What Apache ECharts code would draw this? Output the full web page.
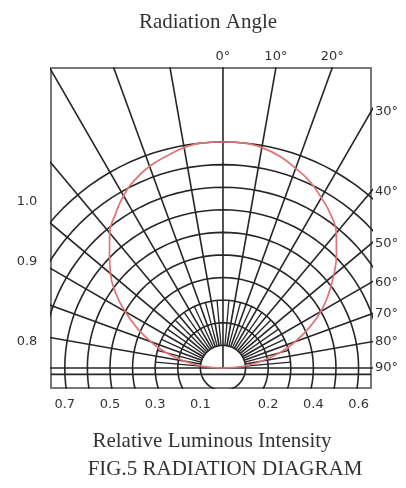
<!DOCTYPE html>
<html>
<head>
<meta charset="utf-8">
<script src="https://cdn.jsdelivr.net/npm/echarts@6/dist/echarts.min.js"></script>
<style>
  html, body { margin: 0; padding: 0; background: #fff; }
  #chart { width: 406px; height: 488px; }
</style>
</head>
<body>
<div id="chart"></div>
<script>
// Concentric intensity rings (relative units)
const ringValues = [0.1, 0.2, 0.3, 0.4, 0.5, 0.6, 0.7, 0.8, 0.9, 1.0];
// Main radial angle lines, degrees from the optical axis
const spokeAngles = [-90, -80, -70, -60, -50, -40, -30, -20, -10, 0, 10, 20, 30, 40, 50, 60, 70, 80, 90];
// Intermediate radial lines drawn only near the centre
const fineSpokeAngles = [-85, -75, -65, -55, -45, -35, -25, -15, -5, 5, 15, 25, 35, 45, 55, 65, 75, 85];
// Radiation pattern: angle (deg) and relative luminous intensity
const curveAngles = [-90, -85, -80, -75, -70, -65, -60, -55, -50, -45, -40, -35, -30, -25, -20, -15, -10, -5, 0,
                     5, 10, 15, 20, 25, 30, 35, 40, 45, 50, 55, 60, 65, 70, 75, 80, 85, 90];
const curveIntensity = [0.00, 0.09, 0.17, 0.26, 0.34, 0.42, 0.50, 0.58, 0.65, 0.71, 0.78, 0.83, 0.88, 0.92, 0.95, 0.97, 0.99, 1.00, 1.00,
                        1.00, 0.99, 0.97, 0.94, 0.91, 0.87, 0.83, 0.78, 0.71, 0.64, 0.57, 0.50, 0.42, 0.34, 0.26, 0.17, 0.09, 0.00];
// Tick labels
const bottomTicks = [-0.7, -0.5, -0.3, -0.1, 0.2, 0.4, 0.6];
const topTickAngles = [0, 10, 20];
const rightTickAngles = [30, 40, 50, 60, 70, 80, 90];
const leftLabels = ['1.0', '0.9', '0.8'];

// Plot window in intensity units (x across, y up from the source)
const X_MIN = -0.761, X_MAX = 0.655;
const Y_MIN = -0.0885, Y_MAX = 1.3275;

const rad = d => d * Math.PI / 180;
const polar = (r, deg) => [r * Math.sin(rad(deg)), r * Math.cos(rad(deg))];

const GRID = '#262626';
const series = [];
const gridLine = (data, w) => ({
  type: 'line', data, showSymbol: false, silent: true, clip: true,
  lineStyle: { color: GRID, width: w || 1.6 }, z: 2
});

// rings (full circles, clipped by the frame)
ringValues.forEach(r => {
  const pts = [];
  for (let a = 0; a <= 360; a += 3) pts.push(polar(r, a));
  series.push(gridLine(pts));
});
// main spokes
spokeAngles.forEach(a => {
  const r0 = (a === 0 || Math.abs(a) === 90) ? 0 : ringValues[0];
  series.push(gridLine([polar(r0, a), polar(2, a)]));
});
// fine spokes between the first and third rings
fineSpokeAngles.forEach(a => {
  series.push(gridLine([polar(ringValues[0], a), polar(ringValues[2], a)], 1.3));
});
// lower base line
series.push(gridLine([[X_MIN, -0.028], [X_MAX, -0.028]]));

// radiation pattern
series.push({
  type: 'line', smooth: true, showSymbol: false, silent: true, z: 5,
  data: curveAngles.map((a, i) => polar(curveIntensity[i], a)),
  lineStyle: { color: '#e07474', width: 1.7 }
});

const tickFont = { fontFamily: 'DejaVu Sans', fontSize: 13, color: '#333' };
const serif = { fontFamily: 'Liberation Serif', fontSize: 21, color: '#333', fontWeight: 'normal' };

const chart = echarts.init(document.getElementById('chart'), null, { renderer: 'canvas' });
chart.setOption({
  animation: false,
  backgroundColor: '#fff',
  grid: { left: 51, right: 35, top: 68, bottom: 100, show: true, borderColor: '#777', borderWidth: 2, backgroundColor: 'transparent' },
  title: [
    { text: 'Radiation Angle', left: 203, top: 7, textAlign: 'center', textStyle: serif },
    { text: 'Relative Luminous Intensity', left: 207, top: 426, textAlign: 'center', textStyle: serif },
    { text: 'FIG.5 RADIATION DIAGRAM', left: 220, top: 454, textAlign: 'center', textStyle: serif }
  ],
  xAxis: [
    {
      type: 'value', position: 'bottom', min: X_MIN, max: X_MAX,
      axisLine: { show: false }, axisTick: { show: false }, splitLine: { show: false },
      axisLabel: { ...tickFont, margin: 10, customValues: bottomTicks, formatter: v => Math.abs(v).toFixed(1) }
    },
    {
      type: 'value', position: 'top', min: X_MIN, max: X_MAX,
      axisLine: { show: false }, axisTick: { show: false }, splitLine: { show: false },
      axisLabel: {
        ...tickFont, margin: 5,
        customValues: topTickAngles.map(a => Y_MAX * Math.tan(rad(a))),
        formatter: v => Math.round(Math.atan(v / Y_MAX) * 180 / Math.PI) + '°'
      }
    }
  ],
  yAxis: [
    {
      type: 'value', position: 'left', min: Y_MIN, max: Y_MAX,
      axisLine: { show: false }, axisTick: { show: false }, splitLine: { show: false }, axisLabel: { show: false }
    },
    {
      type: 'value', position: 'right', min: Y_MIN, max: Y_MAX,
      axisLine: { show: false }, axisTick: { show: false }, splitLine: { show: false },
      axisLabel: {
        ...tickFont, margin: 4,
        customValues: rightTickAngles.map(a => X_MAX / Math.tan(rad(a))),
        formatter: v => Math.round(Math.atan2(X_MAX, v) * 180 / Math.PI) + '°'
      }
    }
  ],
  graphic: leftLabels.map((t, i) => ({
    type: 'text', x: 27, y: [202, 262, 342][i],
    style: { text: t, fill: '#333', align: 'center', verticalAlign: 'middle', font: '13px "DejaVu Sans"' }
  })),
  series
});
</script>
</body>
</html>
